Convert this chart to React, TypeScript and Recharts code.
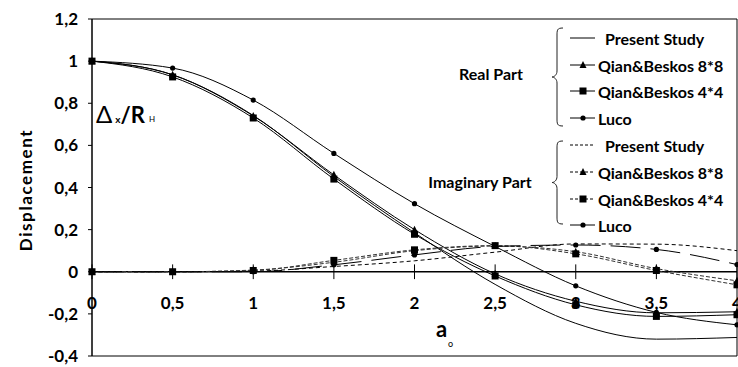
import React from 'react';
import { LineChart, Line, XAxis, YAxis, ReferenceLine, ReferenceArea } from 'recharts';

// dimensionless frequency a0
const a0 = [0, 0.5, 1, 1.5, 2, 2.5, 3, 3.5, 4];

// real part
const presentReal = [1, 0.935, 0.742, 0.452, 0.185, -0.06, -0.245, -0.32, -0.312];
const qian8Real = [1, 0.935, 0.74, 0.46, 0.2, -0.01, -0.14, -0.195, -0.19];
const qian4Real = [1, 0.925, 0.73, 0.44, 0.178, -0.02, -0.157, -0.212, -0.204];
const lucoReal = [1, 0.967, 0.815, 0.562, 0.323, 0.12, -0.067, -0.193, -0.252];

// imaginary part
const presentImag = [0, 0, 0.003, 0.025, 0.052, 0.093, 0.132, 0.131, 0.1];
const qian8Imag = [0, 0, 0.008, 0.045, 0.1, 0.122, 0.095, 0.015, -0.043];
const qian4Imag = [0, 0, 0.006, 0.054, 0.104, 0.124, 0.085, 0.006, -0.062];
const lucoImag = [0, 0, 0, 0.033, 0.08, 0.12, 0.127, 0.106, 0.034];

const xTicks = [0, 0.5, 1, 1.5, 2, 2.5, 3, 3.5, 4];
const yTicks = [-0.4, -0.2, 0, 0.2, 0.4, 0.6, 0.8, 1, 1.2];

const data = a0.map((a, i) => ({
  a,
  presentReal: presentReal[i],
  qian8Real: qian8Real[i],
  qian4Real: qian4Real[i],
  lucoReal: lucoReal[i],
  presentImag: presentImag[i],
  qian8Imag: qian8Imag[i],
  qian4Imag: qian4Imag[i],
  lucoImag: lucoImag[i],
}));

const FONT = 'Lato, "Open Sans", sans-serif';
const comma = (v: number) => String(Math.round(v * 10) / 10).replace('.', ',');

type Kind = 'none' | 'triangle' | 'square' | 'circle';

function Marker({ cx, cy, kind }: { cx: number; cy: number; kind: Kind }) {
  if (cx == null || cy == null || kind === 'none') return null;
  if (kind === 'triangle') {
    return <path d={`M${cx},${cy - 4} L${cx + 3.5},${cy + 3} L${cx - 3.5},${cy + 3} Z`} fill="#000" />;
  }
  if (kind === 'square') {
    return <rect x={cx - 3.5} y={cy - 3.5} width={7} height={7} fill="#000" />;
  }
  return <circle cx={cx} cy={cy} r={2.6} fill="#000" />;
}

const dotFor = (kind: Kind) => (props: any) => (
  <Marker key={`${kind}-${props.dataKey}-${props.index}`} cx={props.cx} cy={props.cy} kind={kind} />
);

const series = [
  { key: 'presentReal', kind: 'none' as Kind, dash: undefined, color: '#000' },
  { key: 'qian8Real', kind: 'triangle' as Kind, dash: undefined, color: '#000' },
  { key: 'qian4Real', kind: 'square' as Kind, dash: undefined, color: '#000' },
  { key: 'lucoReal', kind: 'circle' as Kind, dash: undefined, color: '#000' },
  { key: 'presentImag', kind: 'none' as Kind, dash: '4 3', color: '#000' },
  { key: 'qian8Imag', kind: 'triangle' as Kind, dash: '4 2', color: '#333' },
  { key: 'qian4Imag', kind: 'square' as Kind, dash: '4 2', color: '#333' },
  { key: 'lucoImag', kind: 'circle' as Kind, dash: '30 10', color: '#000' },
];

const legendRows = [
  { label: 'Present Study', kind: 'none' as Kind, dash: undefined, y: 38 },
  { label: 'Qian&Beskos 8*8', kind: 'triangle' as Kind, dash: undefined, y: 65 },
  { label: 'Qian&Beskos 4*4', kind: 'square' as Kind, dash: undefined, y: 91 },
  { label: 'Luco', kind: 'circle' as Kind, dash: undefined, y: 118 },
  { label: 'Present Study', kind: 'none' as Kind, dash: '3 2', y: 145 },
  { label: 'Qian&Beskos 8*8', kind: 'triangle' as Kind, dash: '3 2', y: 172 },
  { label: 'Qian&Beskos 4*4', kind: 'square' as Kind, dash: '3 2', y: 199 },
  { label: 'Luco', kind: 'circle' as Kind, dash: undefined, y: 225 },
];

// curly brace opening to the left, tip at (x, mid)
function brace(x: number, y1: number, y2: number) {
  const mid = (y1 + y2) / 2;
  const b = x + 5;
  return [
    `M${x + 11},${y1}`,
    `C${b},${y1} ${b},${y1 + 2} ${b},${y1 + 8}`,
    `L${b},${mid - 6}`,
    `C${b},${mid - 2} ${x + 2},${mid} ${x},${mid}`,
    `C${x + 2},${mid} ${b},${mid + 2} ${b},${mid + 6}`,
    `L${b},${y2 - 8}`,
    `C${b},${y2 - 2} ${b},${y2} ${x + 11},${y2}`,
  ].join(' ');
}

function LegendOverlay() {
  return (
    <svg width={738} height={367} style={{ position: 'absolute', left: 0, top: 0, pointerEvents: 'none' }}>
      <g fontFamily={FONT} fontWeight={700} fontSize={16} fill="#000">
        <text x={491} y={73} textAnchor="middle" dominantBaseline="central">Real Part</text>
        <text x={480} y={181} textAnchor="middle" dominantBaseline="central">Imaginary Part</text>
        <path d={brace(552, 28, 126)} fill="none" stroke="#222" strokeWidth={1} />
        <path d={brace(552, 141, 224)} fill="none" stroke="#222" strokeWidth={1} />
        {legendRows.map((r, i) => (
          <g key={i}>
            <line x1={570} x2={595} y1={r.y} y2={r.y} stroke="#000" strokeWidth={1} strokeDasharray={r.dash} />
            <Marker cx={583} cy={r.y} kind={r.kind} />
            <text x={r.kind === 'none' ? 605 : 598} y={r.y} dominantBaseline="central">{r.label}</text>
          </g>
        ))}
      </g>
      {/* axis captions */}
      <text
        transform="translate(25,190) rotate(-90)"
        textAnchor="middle"
        dominantBaseline="central"
        fontFamily={FONT}
        fontWeight={700}
        fontSize={17}
        letterSpacing={1.6}
      >
        Displacement
      </text>
      <text x={96} y={123} fontFamily={FONT} fill="#000">
        <tspan fontSize={24}>Δ</tspan>
        <tspan fontSize={10} fontWeight={700} dx={3}>x</tspan>
        <tspan fontSize={22} fontWeight={700}>/R</tspan>
        <tspan fontSize={8} dx={4} dy={-1}>H</tspan>
      </text>
      <text x={436} y={337} fontFamily={FONT} fontWeight={700} fontSize={22}>a</text>
      <text x={448} y={347} fontFamily={FONT} fontSize={9}>o</text>
    </svg>
  );
}

export default function App() {
  return (
    <div style={{ position: 'absolute', left: 0, top: 0, width: 738, height: 367, background: '#fff' }}>
      <LineChart
        width={738}
        height={367}
        data={data}
        margin={{ top: 19, right: 1, bottom: 11, left: 0 }}
        style={{ fontFamily: FONT }}
      >
        <XAxis dataKey="a" type="number" domain={[0, 4]} ticks={xTicks} hide />
        <YAxis
          type="number"
          domain={[-0.4, 1.2]}
          ticks={yTicks}
          width={92}
          interval={0}
          tickFormatter={comma}
          axisLine={{ stroke: '#000', strokeWidth: 1 }}
          tickLine={{ stroke: '#000' }}
          tickSize={4}
          tickMargin={10}
          tick={{ fill: '#000', fontSize: 17, fontWeight: 700, fontFamily: FONT }}
        />
        <ReferenceArea x1={0} x2={4} y1={-0.4} y2={1.2} fill="none" stroke="#000" strokeWidth={1} />
        <ReferenceLine y={0} stroke="#000" strokeWidth={1.5} />
        {xTicks.map((t) => (
          <ReferenceLine
            key={t}
            segment={[{ x: t, y: -0.035 }, { x: t, y: 0.035 }]}
            stroke="#000"
            strokeWidth={1}
            label={{
              value: comma(t),
              position: 'bottom',
              offset: 18,
              fill: '#000',
              fontSize: 17,
              fontWeight: 700,
              fontFamily: FONT,
            }}
          />
        ))}
        {series.map((s) => (
          <Line
            key={s.key}
            dataKey={s.key}
            type="monotone"
            stroke={s.color}
            strokeWidth={1}
            strokeDasharray={s.dash}
            dot={s.kind === 'none' ? false : dotFor(s.kind)}
            activeDot={false}
            isAnimationActive={false}
          />
        ))}
      </LineChart>
      <LegendOverlay />
    </div>
  );
}
